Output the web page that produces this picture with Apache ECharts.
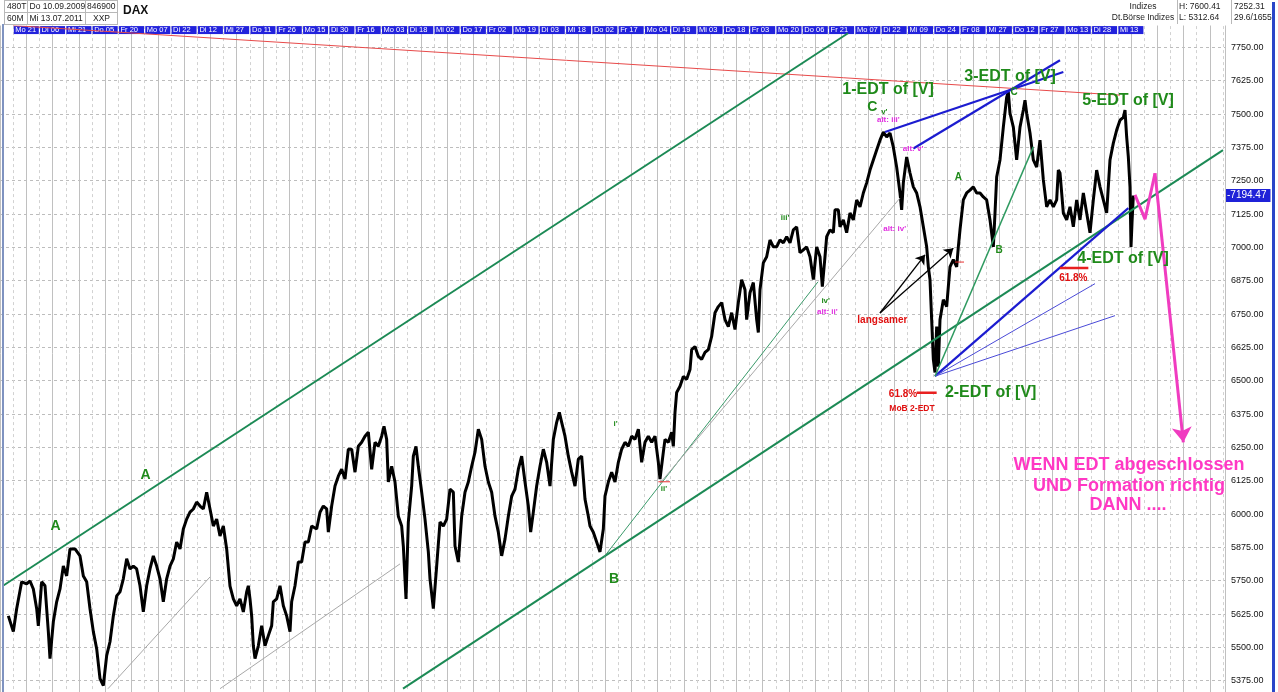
<!DOCTYPE html>
<html><head><meta charset="utf-8">
<script src="https://cdn.jsdelivr.net/npm/echarts@6/dist/echarts.min.js"></script>
<style>html,body{margin:0;padding:0;background:#fff;overflow:hidden}#c{width:1278px;height:692px}</style>
</head><body><div id="c"></div>
<script>
// ---------- data ----------
const dateLabels = ['Mo 21','Di 06','Mi 21','Do 05','Fr 20','Mo 07','Di 22','Di 12','Mi 27','Do 11','Fr 26','Mo 15','Di 30','Fr 16','Mo 03','Di 18','Mi 02','Do 17','Fr 02','Mo 19','Di 03','Mi 18','Do 02','Fr 17','Mo 04','Di 19','Mi 03','Do 18','Fr 03','Mo 20','Do 06','Fr 21','Mo 07','Di 22','Mi 09','Do 24','Fr 08','Mi 27','Do 12','Fr 27','Mo 13','Di 28','Mi 13'];
const barsPerLabel = 7.89;   // bars per date cell
const barMax = 367.5;
// [bar, close]
const priceBars = [
[2.5,5618],[4,5559],[5,5645],[6.5,5746],[8,5738],[9,5749],[10,5719],[11,5645],[11.5,5581],[12.5,5746],[13.5,5731],[14.5,5559],[15,5458],[16,5596],[17,5671],[18,5719],[19,5805],[20,5768],[21,5869],[22.5,5869],[24,5843],[25,5768],[26,5746],[27,5645],[28,5559],[29,5495],[30,5383],[31,5357],[32,5469],[33,5521],[34,5618],[35,5693],[36,5708],[37,5757],[38,5832],[39,5794],[40,5805],[41,5794],[42,5731],[43,5633],[44,5731],[45,5794],[46,5843],[47,5805],[48,5757],[49,5671],[50,5757],[51,5805],[52,5832],[53,5895],[54,5869],[55,5944],[56,5981],[57,6007],[58,6019],[59,6045],[60,6030],[61,6019],[62,6082],[63,6019],[64,5955],[65,5981],[66,5918],[67,5955],[68,5869],
[69,5730],[70,5682],[71,5656],[72,5682],[73,5633],[74,5708],[74.5,5731],[75,5682],[75.5,5618],[76,5506],[76.5,5458],[77.5,5506],[78.5,5581],[79.5,5506],[80.5,5544],[81.5,5581],[82,5671],[83,5682],[84,5731],[85,5656],[86,5618],[87,5559],[87.5,5671],[88.5,5731],[89.5,5820],[90.5,5820],[91.5,5895],[92.5,5895],[93.5,5955],[95,5944],[96,6007],[97,6030],[98,6019],[98.5,5932],[99.5,6030],[100.5,6105],[101.5,6142],[102.5,6168],[103.5,6131],[104.5,6243],[105.5,6243],[106.5,6157],[107.5,6254],[108.5,6269],[109.5,6292],[110.5,6307],[111.5,6168],[112.5,6269],[113.5,6254],[114.5,6292],[115.2,6329],[116,6280],[116.5,6120],[117.5,6179],[118.5,6120],[119.5,5992],[120.5,5955],[121,5880],[121.8,5682],[122.5,5970],[123.5,6105],[124,6217],[124.8,6254],[125.5,6179],[126.5,6082],[127.5,5981],[128.5,5858],[129,5757],[130,5645],[131,5805],
[132,5970],[133,5955],[134,5981],[135,6093],[136,6082],[136.5,5880],[137.5,5820],[138.5,5992],[139.5,6082],[140.5,6120],[141.5,6179],[142.5,6232],[143.5,6318],[144.5,6280],[145.5,6179],[146.5,6120],[147.5,6082],[148.5,5992],[149.5,5932],[150.5,5843],[151.5,5906],[152.5,5992],[153.5,6067],[154.5,6093],[155.5,6168],[156.5,6217],[157.5,6120],[158.5,6030],[159.2,5932],[160,6007],[161,6105],[162,6179],[163,6243],[164,6194],[165,6105],[166,6280],[167,6344],[167.8,6381],[168.5,6344],[169.5,6292],[170.5,6217],[171.5,6157],[172.5,6105],[173.5,6206],[174.5,6217],[175.5,6056],[176.5,5992],[177,5955],[178,5932],[179,5895],[180,5858],[181,5944],[181.5,6067],[182.5,6120],[183.5,6157],[184.5,6120],[185.5,6194],[186.5,6243],[187.5,6269],[188.5,6254],[189.5,6292],[190.5,6280],[191.5,6318],[192.5,6194],[193.5,6269],[194.5,6292],[195.5,6269],[196.5,6292],[197.5,6194],
[198,6131],[199,6232],[199.5,6280],[200.5,6269],[201.5,6307],[202,6254],[202.5,6381],[203,6456],[204,6479],[205,6516],[206,6505],[207,6542],[207.5,6617],[208.5,6628],[209.5,6591],[210.5,6580],[211.5,6606],[212.5,6617],[213.5,6666],[214.5,6755],[215.5,6778],[216.5,6793],[217.5,6729],[218.5,6703],[219.5,6755],[220.5,6692],[221.5,6793],[222.5,6879],[223.5,6841],[224,6729],[225,6830],[226,6868],[227,6729],[227.5,6681],[228,6841],[229,6942],[230,6965],[231,7028],[232,7002],[233,7002],[234,7028],[235,7017],[236,7040],[237,7017],[238,7066],[239,7077],[240,6980],[241,6991],[242,7002],[243,6965],[244,6879],[245,7002],[246,6965],[246.7,6853],[247.5,6965],[248,7040],[249,7066],[250,7055],[250.5,7141],[251.5,7141],
[252,7077],[253,7103],[254,7055],[255,7129],[256,7103],[257,7178],[258,7152],[259,7204],[260,7242],[261,7290],[262,7328],[263,7365],[264,7402],[265,7432],[266,7414],[267,7429],[268,7376],[269,7301],[270,7204],[270.5,7141],[271,7242],[272,7339],[273,7279],[274,7227],[275,7204],[276,7152],[277,7077],[278,7002],[278.5,6927],[279,6879],[279.5,6729],[280,6580],[280.5,6531],[281,6703],[281.5,6553],[282,6729],[283,6804],[284,6778],[284.5,6853],[285,6927],[286,6954],[287,6927],[287.5,7002],[288,7066],[289,7178],[290,7204],[291,7215],[292,7227],[293,7204],[294,7204],[295,7189],[296,7178],[297,7103],[298,7002],[298.5,7129],[299,7264],[300,7328],[301,7451],[302,7563],[302.5,7582],[303,7503],[304,7451],[305,7328],[306,7451],[307,7515],[307.5,7552],[308,7503],[309,7429],[310,7328],[311,7301],[312,7402],[313,7253],[314,7152],[315,7178],[316,7152],[317,7178],[317.5,7290],[318,7279],[319,7129],[320,7103],[321,7152],[322,7077],[323,7178],[324,7103],[325,7204],[326,7129],[327,7055],[328,7178],[329,7290],[330,7227],[331,7178],[332,7129],[333,7328],[334,7391],[335,7440],[336,7477],[337,7488],[337.5,7515],[338,7414],[338.5,7339],[339,7227],[339.3,7002],[339.6,7092],[340,7194.47]
];
const lastPrice = 7194.47;

// trend lines: [bar1, price1, bar2, price2, style]
const trendLines = [
 [3.9,7832,336,7571,'red'],
 [0.9,5731,254.4,7803,'channel'],
 [120.9,5345,366.9,7365,'channel'],
 [181.2,5839,245.4,6871,'greenThin'],
 [198,6116,270,7185,'grayThin'],
 [32.4,5345,63,5764,'grayThin'],
 [66,5345,120,5813,'grayThin'],
 [280.5,6517,338.5,7147,'blueThick'],
 [280.5,6517,328.5,6864,'blueThin'],
 [280.5,6517,334.5,6744,'blueThin'],
 [280.5,6517,310,7377,'greenMid'],
 [265.5,7433,319,7658,'blueThick'],
 [274,7371,318,7702,'blueThick'],
 [275,6455,281,6455,'redMark'],
 [318,6923,326.5,6923,'redMark'],
 [286.5,6945,289.2,6945,'redTick'],
 [197.5,6121,201,6121,'redTick']
];
const arrowLines = [[264,6754,277.5,6972],[264,6754,286,6997]];
const forecastPath = [[340.5,7197],[343.5,7106],[346.5,7278],[355,6269]];

// text notes: [text, bar, price, style]
const notes = [
 ['A',16.7,5954,'mid'],['A',43.7,6146,'mid'],['B',184.2,5757,'mid'],
 ["i'",184.7,6337,'small'],["ii'",199.2,6093,'small'],["iii'",235.5,7110,'small'],["iv'",247.7,6801,'small'],
 ["alt: ii'",248.2,6760,'alt'],
 ['1-EDT of [V]',266.4,7592,'big'],['C',261.7,7525,'mid'],["v'",265.3,7508,'small'],
 ["alt: iii'",266.5,7477,'alt'],["alt: v'",273.9,7371,'alt'],["alt: iv'",268.4,7068,'alt'],
 ['A',287.5,7263,'small2'],['B',299.7,6991,'small2'],['C',304.2,7583,'small2'],
 ['langsamer',264.7,6727,'red'],['61.8%',270.9,6451,'red'],['MoB 2-EDT',273.6,6396,'redS'],
 ['2-EDT of [V]',297.2,6456,'big'],['3-EDT of [V]',303,7640,'big'],['5-EDT of [V]',338.4,7552,'big'],['4-EDT of [V]',336.9,6957,'big'],
 ['61.8%',322,6885,'red'],
 ['WENN EDT abgeschlossen',338.7,6183,'pink'],['UND Formation richtig',338.7,6105,'pink'],['DANN ....',338.4,6034,'pink']
];

const headerLeft = [['480T','Do 10.09.2009','846900'],['60M','Mi 13.07.2011','XXP']];
const headerRight = [['Indizes','H: 7600.41','7252.31'],['Dt.Börse Indizes','L: 5312.64','29.6/1655']];
const symbolName = 'DAX';

// ---------- styles ----------
const FONT = 'Liberation Sans, Arial, sans-serif';
const lineStyles = {
 red:{color:'#e84a4a',width:1},
 channel:{color:'#1c8a55',width:2},
 greenThin:{color:'#3a9a6a',width:1},
 grayThin:{color:'#a8a8a8',width:1},
 blueThick:{color:'#1c1cd0',width:2.2},
 blueThin:{color:'#4a4ad8',width:1},
 greenMid:{color:'#2f9a60',width:1.5},
 redMark:{color:'#e82020',width:2.5},
 redTick:{color:'#e83030',width:1}
};
const G = '#1f8a1a';
const textStyles = {
 big:{color:G,fontSize:16,fontWeight:'bold'},
 mid:{color:G,fontSize:14,fontWeight:'bold'},
 small:{color:G,fontSize:8,fontWeight:'bold'},
 small2:{color:G,fontSize:10,fontWeight:'bold'},
 alt:{color:'#e02ee0',fontSize:8,fontWeight:'bold'},
 red:{color:'#e01010',fontSize:10,fontWeight:'bold'},
 redS:{color:'#e01010',fontSize:8.5,fontWeight:'bold'},
 pink:{color:'#ff38c4',fontSize:18,fontWeight:'bold'}
};

// ---------- build ----------
const chart = echarts.init(document.getElementById('c'), null, {renderer:'canvas'});
const series = [];
series.push({
 type:'line', name:symbolName, data:priceBars, showSymbol:false, z:3,
 lineStyle:{color:'#000',width:3}, silent:true,
 markLine:{silent:true, symbol:'none', data:[{yAxis:lastPrice}], lineStyle:{color:'rgba(0,0,0,0)',width:0},
  label:{show:true, position:'end', distance:1, formatter:p=>'-'+Number(p.value).toFixed(2),
   backgroundColor:'#1f22d8', color:'#fff', fontSize:10, fontFamily:FONT, padding:[2,4,1,1]}}
});
trendLines.forEach(t=>series.push({type:'line', data:[[t[0],t[1]],[t[2],t[3]]], showSymbol:false, silent:true, z:4, lineStyle:lineStyles[t[4]]}));
series.push({type:'line', data:[[arrowLines[0][0],arrowLines[0][1]]], showSymbol:false, silent:true, z:4,
 markLine:{silent:true, symbol:['none','arrow'], symbolSize:9, label:{show:false},
  lineStyle:{color:'#000',width:1.3,type:'solid'},
  data:arrowLines.map(a=>[{coord:[a[0],a[1]]},{coord:[a[2],a[3]]}])}});
series.push({type:'line', data:forecastPath.slice(0,3), showSymbol:false, silent:true, z:5,
 lineStyle:{color:'#f03cc0',width:3},
 markLine:{silent:true, symbol:['none','arrow'], symbolSize:15, label:{show:false},
  lineStyle:{color:'#f03cc0',width:3,type:'solid'},
  data:[[{coord:forecastPath[2]},{coord:forecastPath[3]}]]}});
series.push({type:'scatter', symbolSize:1, silent:true, z:6, itemStyle:{color:'rgba(0,0,0,0)', opacity:1},
 label:{show:true, position:'inside', formatter:'{b}', fontFamily:FONT, opacity:1, textBorderWidth:0},
 data:notes.map(n=>({name:n[0], value:[n[1],n[2]], label:Object.assign({fontFamily:FONT, textBorderWidth:0}, textStyles[n[3]])}))});

// header graphic
const graphic = [];
graphic.push({type:'rect', z:100, silent:true, shape:{x:0,y:0,width:1278,height:25.5}, style:{fill:'#fff'}});
const hl = (x1,y1,x2,y2)=>graphic.push({type:'line', z:101, silent:true, shape:{x1,y1,x2,y2}, style:{stroke:'#b8b8b8',lineWidth:1}});
hl(4.5,0.5,117.5,0.5); hl(4.5,12.5,117.5,12.5); hl(4.5,24.5,117.5,24.5);
hl(4.5,0,4.5,25); hl(27.5,0,27.5,25); hl(85.5,0,85.5,25); hl(117.5,0,117.5,25);
hl(1177.5,0,1177.5,24); hl(1231.5,0,1231.5,24);
const leftX = [7,29.5,87];
headerLeft.forEach((row,r)=>row.forEach((t,c)=>graphic.push({type:'text', z:102, silent:true,
 style:{text:t, x:(r===1&&c===2)?101.5:leftX[c], y:r?18.5:6.5, textAlign:(r===1&&c===2)?'center':'left', textVerticalAlign:'middle', fontSize:8.5, fontFamily:FONT, fill:'#222'}})));
graphic.push({type:'text', z:102, silent:true, style:{text:symbolName, x:123, y:11, textVerticalAlign:'middle', fontSize:12, fontWeight:'bold', fontFamily:FONT, fill:'#111'}});
const rightX = [[1143,'center'],[1179,'left'],[1234,'left']];
headerRight.forEach((row,r)=>row.forEach((t,c)=>graphic.push({type:'text', z:102, silent:true,
 style:{text:t, x:rightX[c][0], y:r?17.5:6.5, textAlign:rightX[c][1], textVerticalAlign:'middle', fontSize:8.5, fontFamily:FONT, fill:'#222'}})));
// frame lines
graphic.push({type:'line', z:101, silent:true, shape:{x1:3,y1:24,x2:3,y2:692}, style:{stroke:'#7f93c0',lineWidth:2}});
graphic.push({type:'rect', z:101, silent:true, shape:{x:1272,y:2,width:3,height:690}, style:{fill:'#2a45c8'}});

const option = {
 animation:false,
 backgroundColor:'#fff',
 textStyle:{fontFamily:FONT},
 grid:{left:0, width:1225, top:14.07, height:699.96, containLabel:false, outerBoundsMode:'none', show:false},
 xAxis:[
  {type:'value', min:0, max:barMax, interval:barsPerLabel/2, position:'bottom',
   axisLine:{show:false}, axisTick:{show:false}, axisLabel:{show:false},
   splitLine:{show:true, lineStyle:{color:'#d2d2d2', width:1, type:[3,3]}}},
  {type:'value', min:0, max:barMax, interval:barsPerLabel, position:'top', offset:-20,
   axisLine:{show:false}, axisTick:{show:false},
   splitLine:{show:true, lineStyle:{color:'#c0c0c0', width:1}},
   axisLabel:{show:true, margin:0, hideOverlap:false,
    formatter:v=>{const k=Math.round(v/barsPerLabel)-1; return (k>=0&&k<dateLabels.length)?'{d|'+dateLabels[k]+'}':'';},
    rich:{d:{backgroundColor:'#2222dc', color:'#fff', fontSize:7.5, fontFamily:FONT, width:22.5, height:8, lineHeight:8, align:'left', padding:[0,1,0,1.5]}}}}
 ],
 yAxis:{type:'value', position:'right', min:5250, max:7875, interval:125,
  axisLine:{show:false}, axisTick:{show:false},
  axisLabel:{margin:6, color:'#111', fontSize:9, fontFamily:FONT, showMinLabel:false, showMaxLabel:false, formatter:v=>v.toFixed(2)},
  splitLine:{show:true, showMinLine:false, showMaxLine:false, lineStyle:{color:'#bdbdbd', type:[3,3], width:1}}},
 graphic:graphic,
 series:series
};
chart.setOption(option);
</script></body></html>
